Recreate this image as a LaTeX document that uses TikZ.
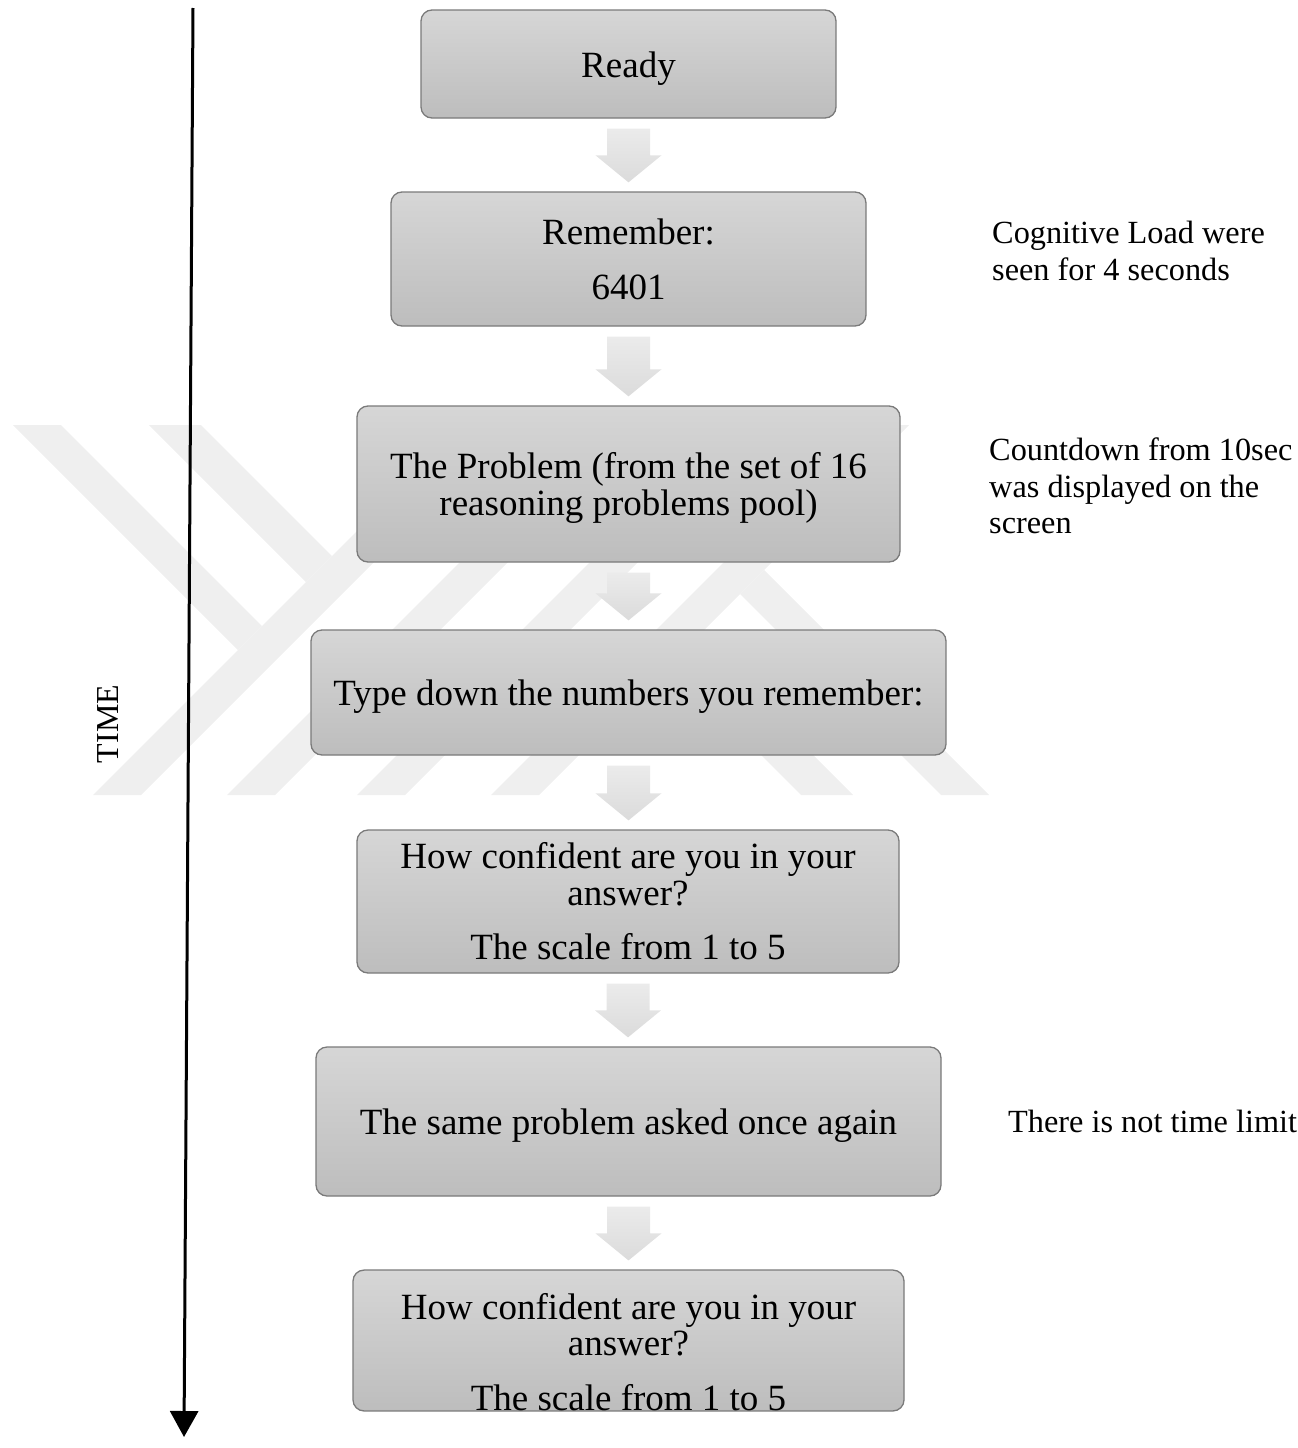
\documentclass[tikz,border=0pt]{standalone}
\usepackage{fontspec}
\setmainfont{Liberation Serif}
\usetikzlibrary{arrows.meta,calc}
\definecolor{boxtop}{HTML}{D6D6D6}
\definecolor{boxbot}{HTML}{BDBDBD}
\definecolor{boxline}{HTML}{7A7A7A}
\definecolor{arrtop}{HTML}{EBEBEB}
\definecolor{arrbot}{HTML}{DBDBDB}
\definecolor{wmark}{HTML}{EFEFEF}
\tikzset{
  stepbox/.style={draw=boxline, line width=1.3pt, rounded corners=11pt,
    top color=boxtop, bottom color=boxbot, align=center, inner sep=0pt,
    font=\fontsize{37}{36.6}\selectfont},
  sidetext/.style={align=left, inner sep=0pt, font=\fontsize{32.3}{36.5}\selectfont},
  blockarrow/.style={top color=arrtop, bottom color=arrbot, draw=none},
  timearrow/.style={line width=3pt, -{Triangle[length=26pt,width=28pt]}},
  wm/.style={fill=wmark, draw=none}
}
\newcommand\grayarrow[2]{%
  \path[blockarrow] let \p1=($(#1.south)+(0,10)$), \p2=($(#2.north)+(0,-9)$) in
    (\x1-21.5pt,\y1) -- (\x1+21.5pt,\y1) -- (\x1+21.5pt,\y2+27pt) -- (\x1+33pt,\y2+27pt)
    -- (\x1,\y2) -- (\x1-33pt,\y2+27pt) -- (\x1-21.5pt,\y2+27pt) -- cycle;}
\newcommand\lift[1]{\rule{0pt}{#1pt}}
\begin{document}
\begin{tikzpicture}[x=1pt,y=-1pt]
\useasboundingbox (0,0) rectangle (1298,1448);
% watermark
\fill[wm] (13,425) -- (61,425) -- (262,626) -- (238,650) -- cycle;
\fill[wm] (149,425) -- (201,425) -- (332,556) -- (306,582) -- cycle;
\fill[wm] (93,795) -- (141,795) -- (511,425) -- (463,425) -- cycle;
\fill[wm] (227,795) -- (275,795) -- (645,425) -- (597,425) -- cycle;
\fill[wm] (357,795) -- (405,795) -- (775,425) -- (727,425) -- cycle;
\fill[wm] (491,795) -- (539,795) -- (909,425) -- (861,425) -- cycle;
\fill[wm] (853,795) -- (801,795) -- (670,664) -- (696,638) -- cycle;
\fill[wm] (989,795) -- (941,795) -- (740,594) -- (764,570) -- cycle;

% boxes
\node[stepbox, minimum width=415pt, minimum height=108pt] (ready) at (628.5,64) {\lift{35.3}Ready};
\node[stepbox, minimum width=475pt, minimum height=134pt] (rem) at (628.5,259) {Remember:\\[18.4pt]6401};
\node[stepbox, minimum width=543pt, minimum height=156pt] (prob) at (628.5,484) {\lift{33.7}The Problem (from the set of 16\\reasoning problems pool)};
\node[stepbox, minimum width=635pt, minimum height=125pt] (type) at (628.5,692.5) {\lift{33.3}Type down the numbers you remember:};
\node[stepbox, minimum width=542pt, minimum height=143pt] (conf1) at (628,901.5) {How confident are you in your\\answer?\\[18pt]The scale from 1 to 5};
\node[stepbox, minimum width=625pt, minimum height=149pt] (same) at (628.5,1121.5) {\lift{33.3}The same problem asked once again};
\node[stepbox, minimum width=551pt, minimum height=139pt] (conf2) at (628.5,1340.5) {\lift{49.3}How confident are you in your\\answer?\\[18pt]The scale from 1 to 5};

% gray arrows
\grayarrow{ready}{rem}
\grayarrow{rem}{prob}
\grayarrow{prob}{type}
\grayarrow{type}{conf1}
\grayarrow{conf1}{same}
\grayarrow{same}{conf2}

% side notes
\node[sidetext, anchor=north west] (cog) at (992,221) {Cognitive Load were\\seen for 4 seconds};
\node[sidetext, anchor=north west] (count) at (989,438) {Countdown from 10sec\\was displayed on the\\screen};
\node[sidetext, anchor=base west] (limit) at (1008,1132) {There is not time limit};

% time axis
\coordinate (ttop) at (193,8);
\coordinate (tbot) at (184,1437);
\draw[timearrow] (ttop) -- (tbot);
\node[font=\fontsize{32}{36}\selectfont, rotate=90, inner sep=0pt] (time) at (108,724) {TIME};
\end{tikzpicture}
\end{document}
